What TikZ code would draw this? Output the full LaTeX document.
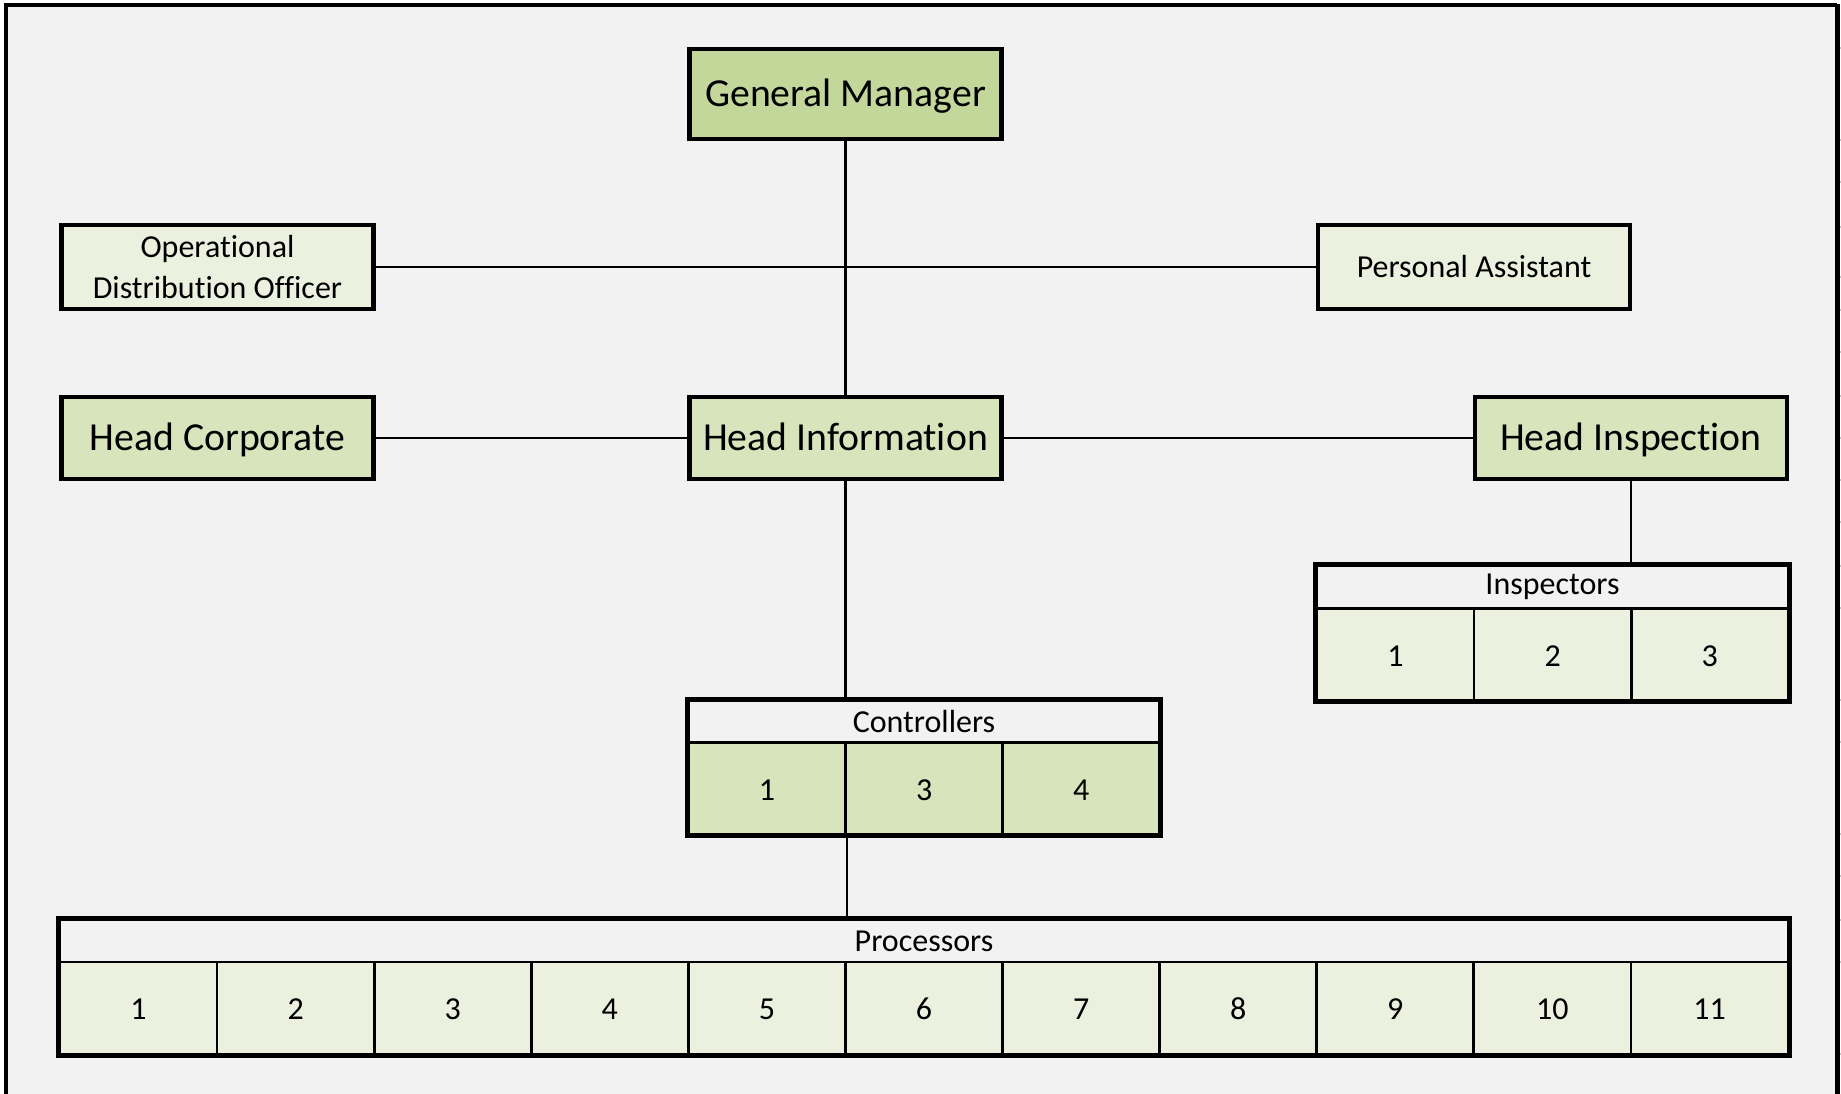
\documentclass[tikz,border=0pt]{standalone}
\usepackage{fontspec}
\setmainfont{Carlito}[Ligatures=NoCommon]
\definecolor{bggray}{HTML}{F2F2F2}
\definecolor{gmgreen}{HTML}{C4D79B}
\definecolor{headgreen}{HTML}{D8E4BC}
\definecolor{palegreen}{HTML}{EBF1DE}
\begin{document}
\begin{tikzpicture}[x=0.01cm, y=-0.01cm,
  box/.style={draw, line width=1.25pt, minimum width=3.12cm, inner sep=1pt, align=center},
  bigbox/.style={box, minimum height=0.82cm, fill=headgreen, text height=7.3pt, text depth=0pt, font=\fontsize{11.3}{13}\selectfont},
  smallbox/.style={box, minimum height=0.84cm, fill=palegreen, font=\fontsize{9.1}{11.4}\selectfont},
  tabhead/.style={draw, line width=0.8pt, minimum height=0.42cm, inner sep=0pt, fill=bggray, font=\fontsize{9.1}{11}\selectfont},
  cell/.style={draw, line width=0.8pt, minimum width=1.571cm, minimum height=0.92cm, inner sep=0pt, fill=palegreen, text height=6.6pt, text depth=0pt, font=\fontsize{9.1}{11}\selectfont},
  frame/.style={line width=1.25pt},
  link/.style={line width=0.8pt}]

\useasboundingbox (0,0) rectangle (1841,1094);
\fill[bggray] (6,5) rectangle (1837,1094);
\draw[line width=0.9pt] (6,1094) -- (6,5) -- (1837,5);
\draw[line width=1.4pt] (1837.5,4) -- (1837.5,1094);
\foreach \y in {48,140,182,227,277,310,352,396,438,480,522,566,608,700,742,834,876,920,962,1054}
  \draw[gray!45, line width=0.6pt] (1840,\y) -- (1841,\y);

\node[bigbox, fill=gmgreen, minimum height=0.9cm] (gm) at (845.5,94) {General Manager};
\node[smallbox] (ops) at (217.5,267) {Operational\\ Distribution Officer};
\node[smallbox] (pa) at (1474,267) {Personal Assistant};
\node[bigbox] (hcorp) at (217.5,438) {Head Corporate};
\node[bigbox] (hinfo) at (845.5,438) {Head Information};
\node[bigbox] (hinsp) at (1631,438) {Head Inspection};

\node[tabhead, minimum width=4.713cm] (insph) at (1552.5,587) {Inspectors};
\foreach \i in {1,2,3}
  \node[cell] (insp\i) at ({1317+157.1*(\i-0.5)},654.5) {\i};
\draw[frame] (insph.north west) rectangle (insp3.south east);

\node[tabhead, minimum width=4.713cm] (ctrlh) at (924,721.5) {Controllers};
\foreach \i/\num in {1/1, 2/3, 3/4}
  \node[cell, fill=headgreen] (ctrl\i) at ({688.5+157.1*(\i-0.5)},788.5) {\num};
\draw[frame] (ctrlh.north west) rectangle (ctrl3.south east);

\node[tabhead, minimum width=17.281cm] (proch) at (924,941) {Processors};
\foreach \i in {1,...,11}
  \node[cell] (proc\i) at ({60+157.1*(\i-0.5)},1008) {\i};
\draw[frame] (proch.north west) rectangle (proc11.south east);

\draw[link] (gm) -- (hinfo);
\draw[link] (ops) -- (pa);
\draw[link] (hcorp) -- (hinfo);
\draw[link] (hinfo) -- (hinsp);
\draw[link] (hinfo.south) -- (hinfo.south |- ctrlh.north);
\draw[link] (hinsp.south) -- (hinsp.south |- insph.north);
\draw[link] (ctrl1.south east) -- (ctrl1.south east |- proch.north);

\end{tikzpicture}
\end{document}
